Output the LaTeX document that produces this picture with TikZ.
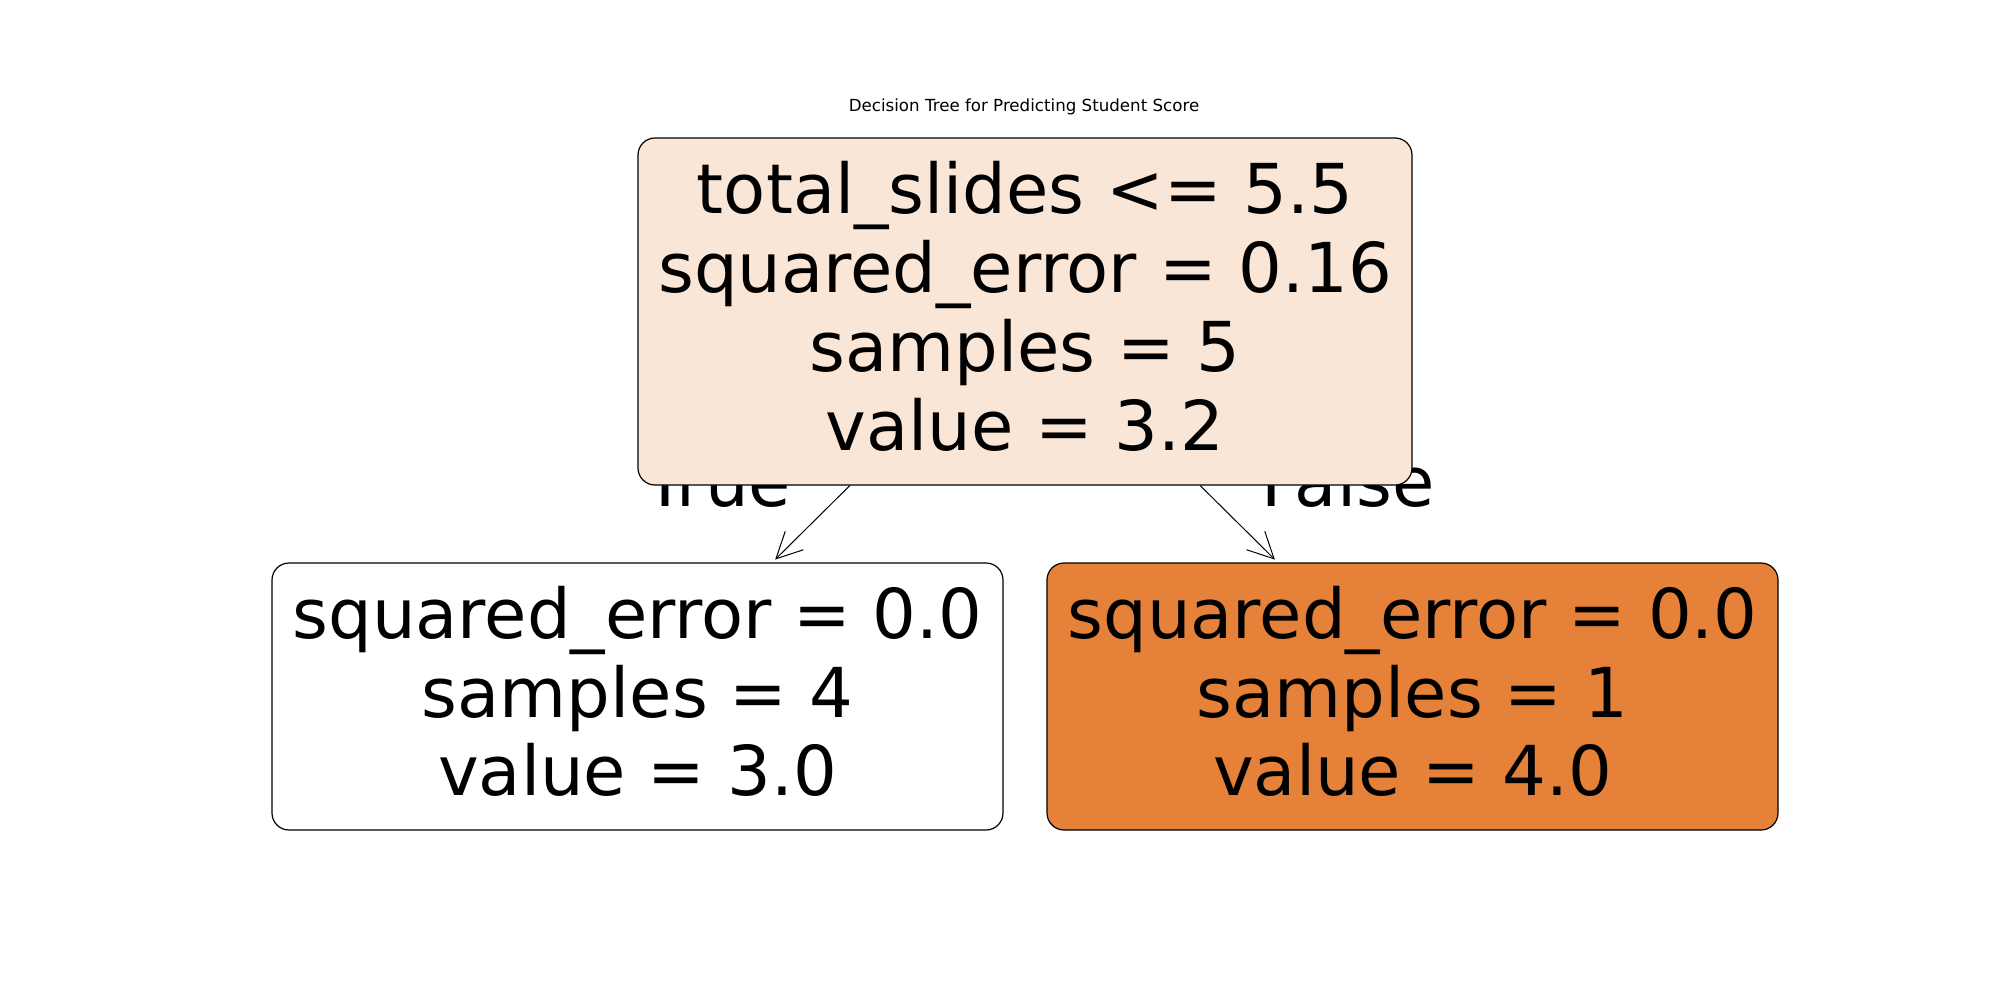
\documentclass[tikz,border=0pt]{standalone}
\usepackage{fontspec}
\setmainfont{DejaVu Sans}
\usetikzlibrary{arrows.meta}
\definecolor{rootfill}{RGB}{250,230,215}
\definecolor{leaforange}{RGB}{229,129,57}
\begin{document}
\begin{tikzpicture}[x=0.5pt,y=-0.5pt,
  treebox/.style={draw=black, line width=0.6pt, rounded corners=8.5pt, align=center,
    font=\fontsize{34.4}{39.4}\selectfont, inner sep=0pt, text depth=5.5pt},
  edgelabel/.style={font=\fontsize{34.4}{39.4}\selectfont, anchor=base, inner sep=0pt},
  arr/.style={-{Straight Barb[length=13pt,width=13pt,line width=0.5pt]}, line width=0.5pt, shorten >=2pt}]
\useasboundingbox (0,0) rectangle (2000,1000);
\fill[white] (0,0) rectangle (2000,1000);
\node[font=\fontsize{8.33}{10}\selectfont] (title) at (1024,107) {Decision Tree for Predicting Student Score};
\node[edgelabel] (tlab) at (718,506) {True};
\node[edgelabel] (flab) at (1348,506) {False};
\node[treebox, fill=rootfill, minimum width=387pt, minimum height=173.5pt] (root) at (1025,311.5)
  {total\_slides <= 5.5\\squared\_error = 0.16\\samples = 5\\value = 3.2};
\node[treebox, fill=white, minimum width=365.5pt, minimum height=133.5pt] (left) at (637.5,696.5)
  {squared\_error = 0.0\\samples = 4\\value = 3.0};
\node[treebox, fill=leaforange, minimum width=365.5pt, minimum height=133.5pt] (right) at (1412.5,696.5)
  {squared\_error = 0.0\\samples = 1\\value = 4.0};
\draw[arr] (root) -- (left);
\draw[arr] (root) -- (right);
\end{tikzpicture}
\end{document}
